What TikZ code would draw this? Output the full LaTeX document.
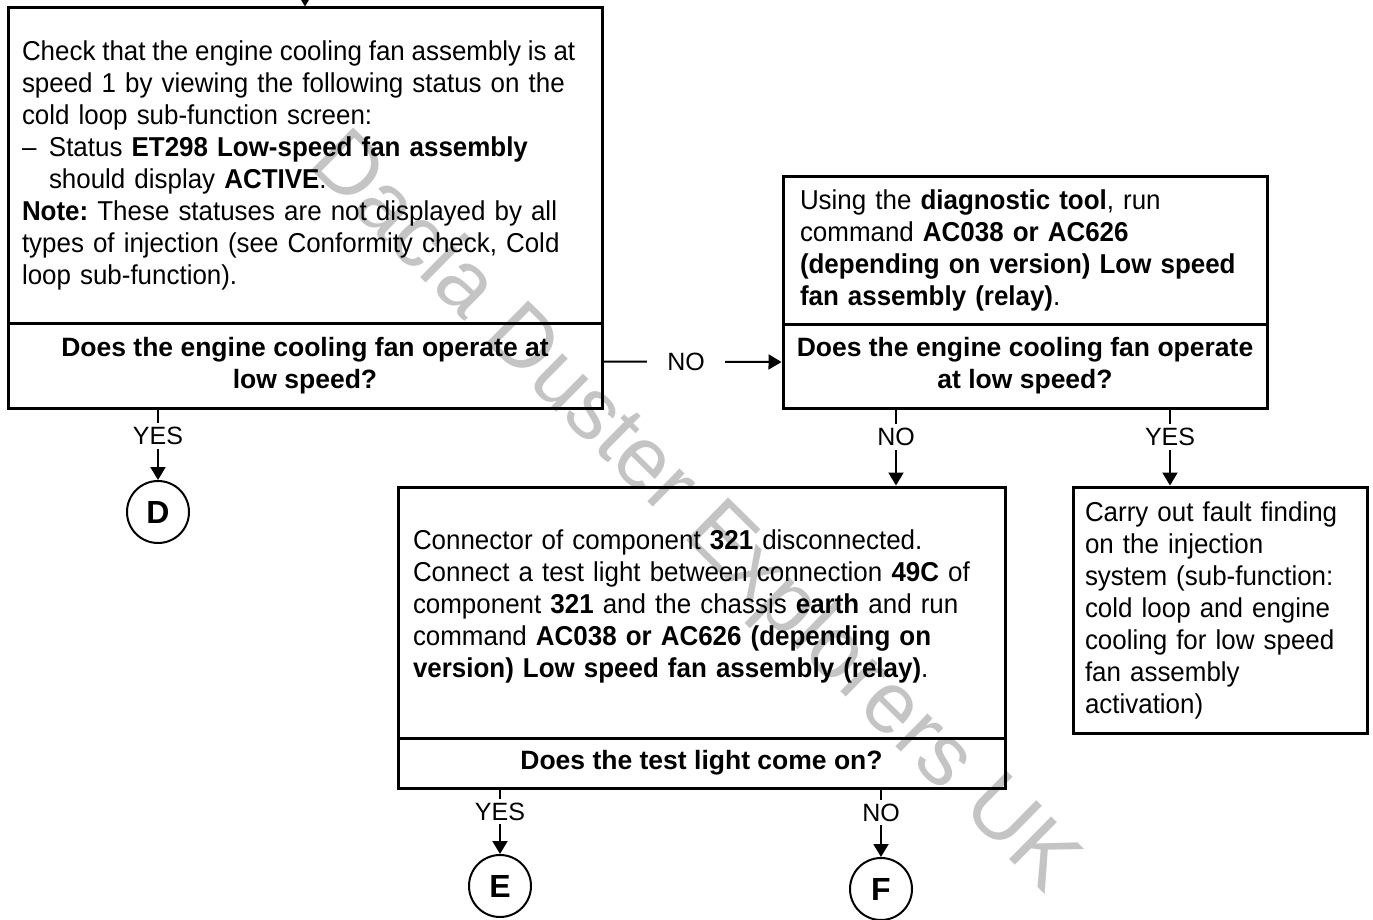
\documentclass[tikz,border=0pt]{standalone}
\usepackage{fontspec}
\setmainfont{Liberation Sans}[FakeStretch=0.95]
\newfontfamily\plainfont{Liberation Sans}
\usetikzlibrary{arrows.meta,calc}
\frenchspacing
\begin{document}
\begin{tikzpicture}[x=1pt,y=-1pt,
  box/.style={draw,line width=3pt,rectangle,inner ysep=0pt,font=\fontsize{27.3}{32}\selectfont,align=left},
  ques/.style={draw,line width=3pt,rectangle,inner sep=0pt,font=\plainfont\fontsize{26.5}{32}\selectfont\bfseries,align=center},
  conn/.style={line width=2pt,-{Triangle[width=15pt,length=13pt]}},
  lbl/.style={fill=white,inner xsep=2pt,inner ysep=4pt,font=\plainfont\fontsize{25}{28}\selectfont},
  term/.style={draw,circle,line width=2pt,minimum size=62pt,inner sep=0pt,font=\plainfont\fontsize{32}{34}\selectfont\bfseries},
  wm/.style={text=black!23,font=\plainfont\fontsize{87}{90}\selectfont}
]
\useasboundingbox (0,0) rectangle (1373,920);
% watermark
\node[wm,rotate=-44.6] (wmk) at (692,514) {Dacia Duster Explorers UK};

% boxes
\node[box,text width=566pt,inner xsep=14pt,minimum width=594pt,minimum height=315pt] (b1) at (305,165.5) {\mbox{\spaceskip=6.8pt Check that the engine cooling fan assembly is at}\\
\mbox{speed 1 by viewing the following status on the}\\
\mbox{cold loop sub-function screen:}\\
\mbox{\makebox[27pt][l]{–}Status \textbf{ET298 Low-speed fan assembly}}\\
\mbox{\hspace*{27pt}should display \textbf{ACTIVE}.}\\
\mbox{\textbf{Note:} These statuses are not displayed by all}\\
\mbox{types of injection (see Conformity check, Cold}\\
\mbox{loop sub-function).}};
\node[ques,minimum width=594pt,minimum height=85pt] (q1) at (305,365.5) {Does the engine cooling fan operate at\\low speed?};

\node[box,text width=450pt,inner xsep=17pt,minimum width=484pt,minimum height=147pt] (b2) at (1025,250.5) {\mbox{Using the \textbf{diagnostic tool}, run}\\
\mbox{command \textbf{AC038 or AC626}}\\
\mbox{\textbf{(depending on version) Low speed}}\\
\mbox{\textbf{fan assembly (relay)}.}};
\node[ques,minimum width=484pt,minimum height=84pt] (q2) at (1025,366) {Does the engine cooling fan operate\\at low speed?};

\node[box,text width=577pt,inner xsep=15pt,minimum width=607pt,minimum height=251pt] (b3) at (701.5,612.5) {\mbox{Connector of component \textbf{321} disconnected.}\\
\mbox{Connect a test light between connection \textbf{49C} of}\\
\mbox{component \textbf{321} and the chassis \textbf{earth} and run}\\
\mbox{command \textbf{AC038 or AC626 (depending on}}\\
\mbox{\textbf{version) Low speed fan assembly (relay)}.}\par\vspace{13pt}\hrule height 0pt width 0pt};
\node[ques,minimum width=607pt,minimum height=50pt] (q3) at (701.5,763) {Does the test light come on?};

\node[box,text width=270pt,inner xsep=12pt,minimum width=294pt,minimum height=246pt] (b4) at (1220,610) {\mbox{Carry out fault finding}\\
\mbox{on the injection}\\
\mbox{system (sub-function:}\\
\mbox{cold loop and engine}\\
\mbox{cooling for low speed}\\
\mbox{fan assembly}\\
\mbox{activation)}};

% terminals
\node[term] (D) at (158,512) {D};
\node[term] (E) at (500,886) {E};
\node[term] (F) at (881,889) {F};

% connectors
\coordinate (top) at (305,-20);
\draw[conn] (top) -- (b1.north);
\draw[conn] ([yshift=4pt]q1.east) -- node[lbl,pos=0.464,inner xsep=20pt]{NO} ([yshift=4pt]q2.west);
\draw[conn] (q1.south -| D) -- node[lbl,pos=0.38]{YES} (D.north);
\coordinate (n2) at ([xshift=-129pt]q2.south);
\coordinate (y2) at ([xshift=145pt]q2.south);
\draw[conn] (n2) -- node[lbl,pos=0.36]{NO} (n2 |- b3.north);
\draw[conn] (y2) -- node[lbl,pos=0.36]{YES} (y2 |- b4.north);
\draw[conn] (q3.south -| E) -- node[lbl,pos=0.34]{YES} (E.north);
\draw[conn] (q3.south -| F) -- node[lbl,pos=0.34]{NO} (F.north);
\end{tikzpicture}
\end{document}
